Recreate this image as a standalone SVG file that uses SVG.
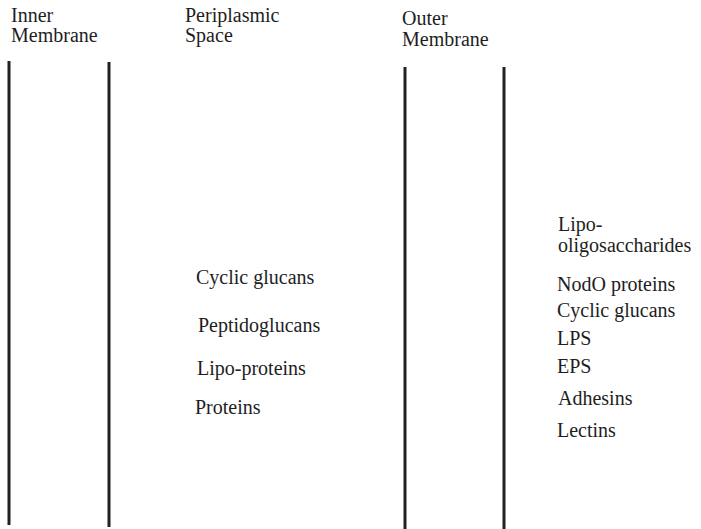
<svg xmlns="http://www.w3.org/2000/svg" width="701" height="529" viewBox="0 0 701 529">
  <style>
    .lbl { font-family: "Liberation Serif", "Times New Roman", serif; font-size: 20px; fill: #1e1e1e; }
    .membrane { stroke: #222; stroke-width: 3; stroke-linecap: butt; fill: none; }
  </style>
  <rect width="701" height="529" fill="#ffffff"/>

  <!-- membrane boundaries -->
  <g id="connectors">
    <line class="membrane" x1="9" y1="61" x2="9" y2="525"/>
    <line class="membrane" x1="109" y1="62" x2="109" y2="527"/>
    <line class="membrane" x1="405" y1="67" x2="405" y2="529"/>
    <line class="membrane" x1="504" y1="67" x2="504" y2="529"/>
  </g>

  <!-- column headings -->
  <g id="inner-membrane">
    <text class="lbl" x="11" y="22">Inner</text>
    <text class="lbl" x="11" y="42">Membrane</text>
  </g>
  <g id="periplasmic-space">
    <text class="lbl" x="185" y="22">Periplasmic</text>
    <text class="lbl" x="185" y="42">Space</text>
  </g>
  <g id="outer-membrane">
    <text class="lbl" x="402" y="25">Outer</text>
    <text class="lbl" x="402" y="46">Membrane</text>
  </g>

  <!-- periplasmic components -->
  <g id="periplasm-list">
    <text class="lbl" x="196" y="284">Cyclic glucans</text>
    <text class="lbl" x="198" y="332">Peptidoglucans</text>
    <text class="lbl" x="197" y="375">Lipo-proteins</text>
    <text class="lbl" x="195" y="414">Proteins</text>
  </g>

  <!-- outer surface components -->
  <g id="surface-list">
    <text class="lbl" x="558" y="231">Lipo-</text>
    <text class="lbl" x="558" y="252">oligosaccharides</text>
    <text class="lbl" x="557" y="291">NodO proteins</text>
    <text class="lbl" x="557" y="317">Cyclic glucans</text>
    <text class="lbl" x="557" y="345">LPS</text>
    <text class="lbl" x="557" y="373">EPS</text>
    <text class="lbl" x="558" y="405">Adhesins</text>
    <text class="lbl" x="557" y="437">Lectins</text>
  </g>
</svg>
